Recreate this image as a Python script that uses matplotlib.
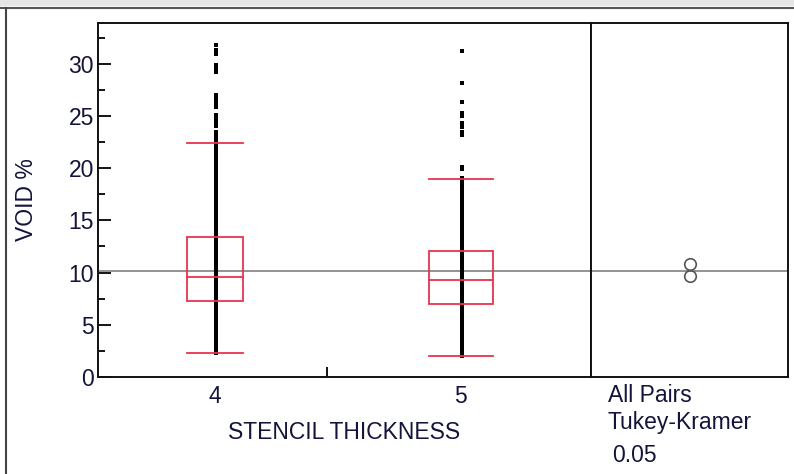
import matplotlib
matplotlib.use("Agg")
import matplotlib.pyplot as plt
from matplotlib.patches import Rectangle
from matplotlib.lines import Line2D

plt.rcParams["font.family"] = ["Liberation Sans", "DejaVu Sans"]

RED = "#e8344d"
TXT = "#14143a"
FS = 16.5

groups = ["4", "5"]
positions = [1.0, 2.0]
q1 = [7.3, 7.0]
median = [9.6, 9.25]
q3 = [13.45, 12.05]
whisker_lo = [2.27, 2.0]
whisker_hi = [22.4, 19.0]
box_halfwidth = [0.113, 0.13]
grand_mean = 10.15
group_means = [10.83, 9.68]

# raw observations (dense column plus the upper tail)
points_4 = [
    2.3, 2.6, 2.9, 3.2, 3.5, 3.8, 4.1, 4.4, 4.7, 5.0, 5.3, 5.6, 5.9, 6.2, 6.5,
    6.8, 7.1, 7.4, 7.7, 8.0, 8.3, 8.6, 8.9, 9.2, 9.5, 9.8, 10.1, 10.4, 10.7,
    11.0, 11.3, 11.6, 11.9, 12.2, 12.5, 12.8, 13.1, 13.4, 13.7, 14.0, 14.3,
    14.6, 14.9, 15.2, 15.5, 15.8, 16.1, 16.4, 16.7, 17.0, 17.3, 17.6, 17.9,
    18.2, 18.5, 18.8, 19.1, 19.4, 19.7, 20.0, 20.3, 20.6, 20.9, 21.2, 21.5,
    21.8, 22.1, 22.4, 22.7, 23.1, 23.5, 24.0, 24.4, 24.8, 25.1, 25.9, 26.2,
    26.5, 26.8, 27.0, 29.2, 29.6, 29.9, 30.9, 31.35, 31.8,
]
points_5 = [
    2.0, 2.3, 2.6, 2.9, 3.2, 3.5, 3.8, 4.1, 4.4, 4.7, 5.0, 5.3, 5.6, 5.9, 6.2,
    6.5, 6.8, 7.1, 7.4, 7.7, 8.0, 8.3, 8.6, 8.9, 9.2, 9.5, 9.8, 10.1, 10.4,
    10.7, 11.0, 11.3, 11.6, 11.9, 12.2, 12.5, 12.8, 13.1, 13.4, 13.7, 14.0,
    14.3, 14.6, 14.9, 15.2, 15.5, 15.8, 16.1, 16.4, 16.7, 17.0, 17.3, 17.6,
    17.9, 18.2, 18.5, 18.8, 19.1, 19.9, 20.1, 23.2, 23.5, 23.9, 24.3, 25.0,
    25.3, 26.3, 28.2, 31.2,
]
group_points = [points_4, points_5]

fig = plt.figure(figsize=(7.94, 4.74), dpi=100)
W, H = 794, 474

# window chrome: grey strip on top, dark frame lines
fig.add_artist(Rectangle((0, (H - 6) / H), 1, 6 / H, transform=fig.transFigure,
                         facecolor="#e6e6e6", edgecolor="none"))
fig.add_artist(Line2D([0, 1], [(H - 7.5) / H] * 2, transform=fig.transFigure,
                      color="#555555", linewidth=1.5))
fig.add_artist(Line2D([5.5 / W] * 2, [0, (H - 7.5) / H], transform=fig.transFigure,
                      color="#444444", linewidth=1.5))

top, bottom = 23, 377
ax = fig.add_axes([98 / W, (H - bottom) / H, (591 - 98) / W, (bottom - top) / H])
axr = fig.add_axes([591 / W, (H - bottom) / H, (788 - 591) / W, (bottom - top) / H])

for a in (ax, axr):
    a.set_ylim(0, 33.9)
    for s in a.spines.values():
        s.set_linewidth(1.4)
        s.set_color("#111111")
    a.axhline(grand_mean, color="#8a8a8a", linewidth=1.3, zorder=1)

ax.set_xlim(0.524, 2.53)

for i, x in enumerate(positions):
    hw = box_halfwidth[i]
    ys = group_points[i]
    inner = [y for y in ys if q1[i] <= y <= q3[i]]
    ax.plot([x + 0.004] * len(ys), ys, "s", color="black", markersize=2.5,
            markeredgewidth=0, zorder=3)
    ax.plot([x + 0.004] * len(inner), inner, "s", color="black", markersize=3.5,
            markeredgewidth=0, zorder=3)
    ax.add_patch(Rectangle((x - hw, q1[i]), 2 * hw, q3[i] - q1[i], fill=False,
                           edgecolor=RED, linewidth=1.3, zorder=4))
    ax.plot([x - hw, x + hw], [median[i]] * 2, color=RED, linewidth=1.3, zorder=4)
    ax.plot([x, x], [whisker_lo[i], q1[i]], color=RED, linewidth=1.3, zorder=2)
    ax.plot([x, x], [q3[i], whisker_hi[i]], color=RED, linewidth=1.3, zorder=2)
    for w in (whisker_lo[i], whisker_hi[i]):
        ax.plot([x - hw, x + hw], [w, w], color=RED, linewidth=1.3, zorder=4)

ax.set_yticks([0, 5, 10, 15, 20, 25, 30])
ax.set_yticks([2.5, 7.5, 12.5, 17.5, 22.5, 27.5, 32.5], minor=True)
ax.tick_params(axis="y", which="major", direction="in", length=9, width=1.3,
               pad=3, labelsize=FS, labelcolor=TXT)
ax.tick_params(axis="y", which="minor", direction="in", length=5, width=1.3)
ax.set_xticks(positions, groups)
ax.set_xticks([1.455], minor=True)
ax.tick_params(axis="x", which="major", length=0, pad=6, labelsize=FS,
               labelcolor=TXT)
ax.tick_params(axis="x", which="minor", direction="in", length=7, width=1.3)

ax.set_ylabel("VOID %", fontsize=FS, color=TXT)
ax.yaxis.set_label_coords(-0.121, 0.5)
ax.set_xlabel("STENCIL THICKNESS", fontsize=FS, color=TXT)
ax.xaxis.set_label_coords(0.5, -0.125)

# comparison circles
axr.set_xlim(0, 1)
axr.set_xticks([])
axr.set_yticks([])
axr.plot([0.5] * len(group_means), group_means, "o", markersize=8.3,
         markerfacecolor="none", markeredgecolor="#555555",
         markeredgewidth=1.2, zorder=3)

for txt, x, y in [("All Pairs", 608, 395), ("Tukey-Kramer", 608, 423),
                  ("0.05", 612, 455)]:
    fig.text(x / W, (H - y) / H, txt, ha="left", va="center", fontsize=FS,
             color=TXT)

fig.savefig("out.png", dpi=100, facecolor="white")
